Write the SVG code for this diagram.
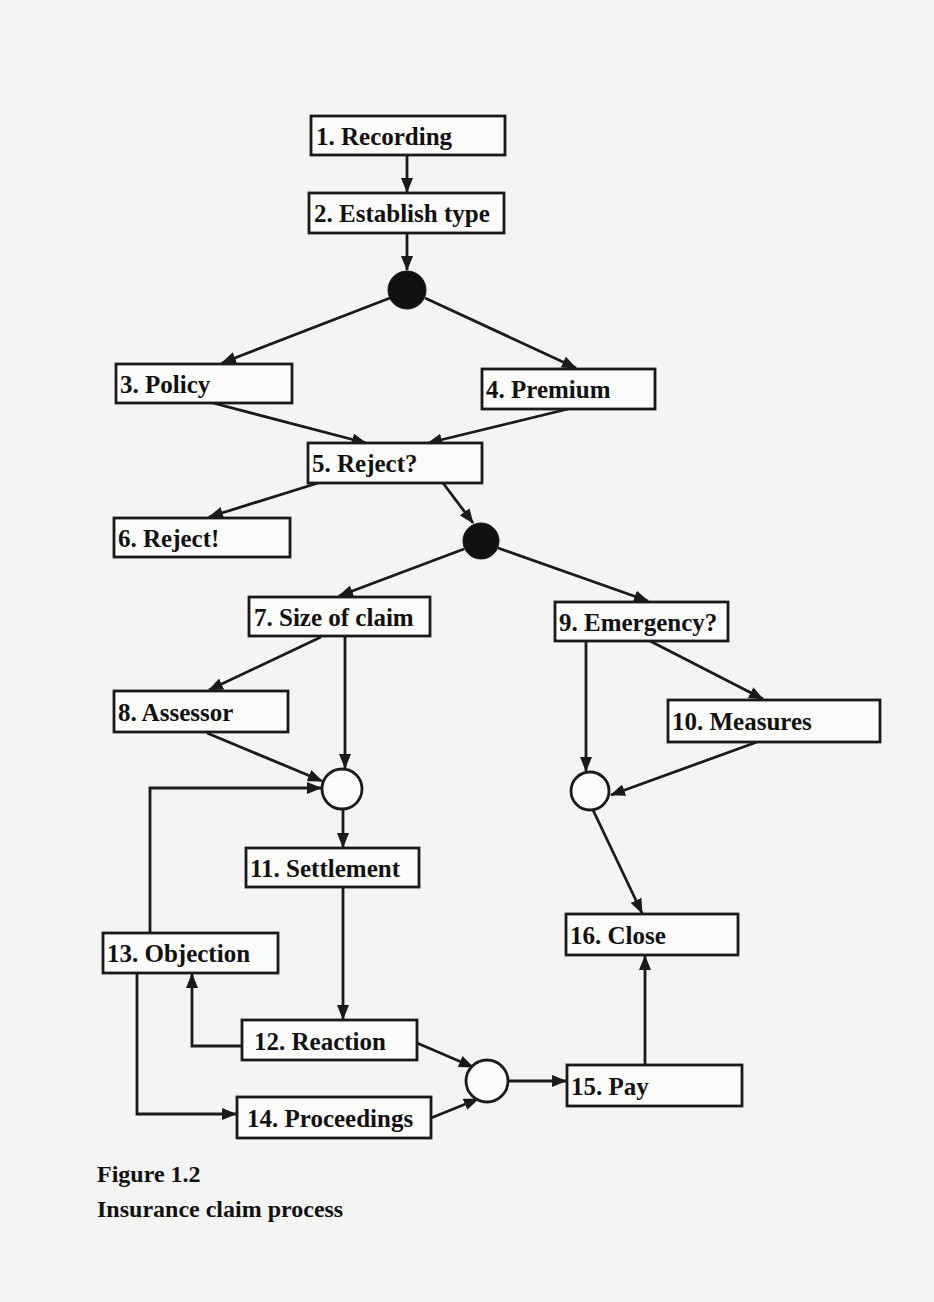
<svg xmlns="http://www.w3.org/2000/svg" width="934" height="1302" viewBox="0 0 934 1302">
<style>
.box{fill:#fbfbfa;stroke:#1a1a1a;stroke-width:2.8}
.lbl{font-family:"Liberation Serif","Times New Roman",serif;font-weight:bold;font-size:25px;fill:#111}
.cap{font-family:"Liberation Serif","Times New Roman",serif;font-weight:bold;font-size:24px;fill:#111}
.edge{fill:none;stroke:#1a1a1a;stroke-width:2.8;marker-end:url(#ah)}
.solid{fill:#111;stroke:#111;stroke-width:1}
.open{fill:#fbfbfa;stroke:#1a1a1a;stroke-width:2.8}
</style>
<defs>
<marker id="ah" markerUnits="userSpaceOnUse" markerWidth="15" markerHeight="12" refX="14" refY="6" orient="auto">
<path d="M0,0 L15,6 L0,12 z" fill="#1a1a1a"/>
</marker>
</defs>
<rect width="934" height="1302" fill="#f4f4f2"/>

<g id="connectors">
<line class="edge" x1="407" y1="155" x2="407" y2="192"/>
<line class="edge" x1="407" y1="233" x2="407" y2="270"/>
<line class="edge" x1="390" y1="298" x2="222" y2="363"/>
<line class="edge" x1="425" y1="298" x2="576" y2="368"/>
<line class="edge" x1="213" y1="403" x2="366" y2="443"/>
<line class="edge" x1="568" y1="409" x2="428" y2="443"/>
<line class="edge" x1="318" y1="483" x2="209" y2="517"/>
<line class="edge" x1="443" y1="483" x2="473" y2="523"/>
<line class="edge" x1="464" y1="549" x2="339" y2="596"/>
<line class="edge" x1="498" y1="548" x2="648" y2="601"/>
<line class="edge" x1="321" y1="637" x2="209" y2="690"/>
<line class="edge" x1="345" y1="637" x2="345" y2="768"/>
<line class="edge" x1="207" y1="733" x2="322" y2="781"/>
<polyline class="edge" points="150,933 150,788 321,788"/>
<line class="edge" x1="343" y1="809" x2="343" y2="847"/>
<line class="edge" x1="343" y1="887" x2="343" y2="1019"/>
<polyline class="edge" points="243,1046 192,1046 192,974"/>
<polyline class="edge" points="137,973 137,1114 236,1114"/>
<line class="edge" x1="417" y1="1043" x2="473" y2="1067"/>
<line class="edge" x1="431" y1="1118" x2="478" y2="1099"/>
<line class="edge" x1="507" y1="1081" x2="566" y2="1081"/>
<line class="edge" x1="645" y1="1065" x2="645" y2="956"/>
<line class="edge" x1="586" y1="641" x2="586" y2="771"/>
<line class="edge" x1="650" y1="641" x2="763" y2="699"/>
<line class="edge" x1="757" y1="742" x2="611" y2="795"/>
<line class="edge" x1="593" y1="810" x2="642" y2="913"/>
</g>

<g id="gate1"><circle class="solid" cx="407" cy="290" r="19"/></g>
<g id="gate2"><circle class="solid" cx="481" cy="541" r="18"/></g>
<g id="gateA"><circle class="open" cx="342" cy="789" r="20"/></g>
<g id="gateB"><circle class="open" cx="590" cy="791" r="19"/></g>
<g id="gateC"><circle class="open" cx="487" cy="1081" r="21"/></g>

<g id="n1"><rect class="box" x="311" y="116" width="194" height="39"/><text class="lbl" x="316" y="145">1. Recording</text></g>
<g id="n2"><rect class="box" x="309" y="193" width="195" height="40"/><text class="lbl" x="314" y="222">2. Establish type</text></g>
<g id="n3"><rect class="box" x="116" y="364" width="176" height="39"/><text class="lbl" x="120" y="393">3. Policy</text></g>
<g id="n4"><rect class="box" x="482" y="369" width="173" height="40"/><text class="lbl" x="486" y="398">4. Premium</text></g>
<g id="n5"><rect class="box" x="308" y="443" width="174" height="40"/><text class="lbl" x="312" y="472">5. Reject?</text></g>
<g id="n6"><rect class="box" x="114" y="518" width="176" height="39"/><text class="lbl" x="118" y="547">6. Reject!</text></g>
<g id="n7"><rect class="box" x="249" y="597" width="181" height="39"/><text class="lbl" x="254" y="626">7. Size of claim</text></g>
<g id="n9"><rect class="box" x="555" y="602" width="173" height="39"/><text class="lbl" x="559" y="631">9. Emergency?</text></g>
<g id="n8"><rect class="box" x="114" y="691" width="174" height="41"/><text class="lbl" x="118" y="721">8. Assessor</text></g>
<g id="n10"><rect class="box" x="668" y="700" width="212" height="42"/><text class="lbl" x="672" y="730">10. Measures</text></g>
<g id="n11"><rect class="box" x="246" y="848" width="173" height="39"/><text class="lbl" x="250" y="877">11. Settlement</text></g>
<g id="n16"><rect class="box" x="566" y="914" width="172" height="41"/><text class="lbl" x="570" y="944">16. Close</text></g>
<g id="n13"><rect class="box" x="103" y="933" width="175" height="40"/><text class="lbl" x="107" y="962">13. Objection</text></g>
<g id="n12"><rect class="box" x="242" y="1020" width="175" height="40"/><text class="lbl" x="254" y="1050">12. Reaction</text></g>
<g id="n15"><rect class="box" x="567" y="1065" width="175" height="41"/><text class="lbl" x="571" y="1095">15. Pay</text></g>
<g id="n14"><rect class="box" x="237" y="1097" width="194" height="41"/><text class="lbl" x="247" y="1127">14. Proceedings</text></g>

<g id="caption">
<text class="cap" x="97" y="1182">Figure 1.2</text>
<text class="cap" x="97" y="1217">Insurance claim process</text>
</g>
</svg>
